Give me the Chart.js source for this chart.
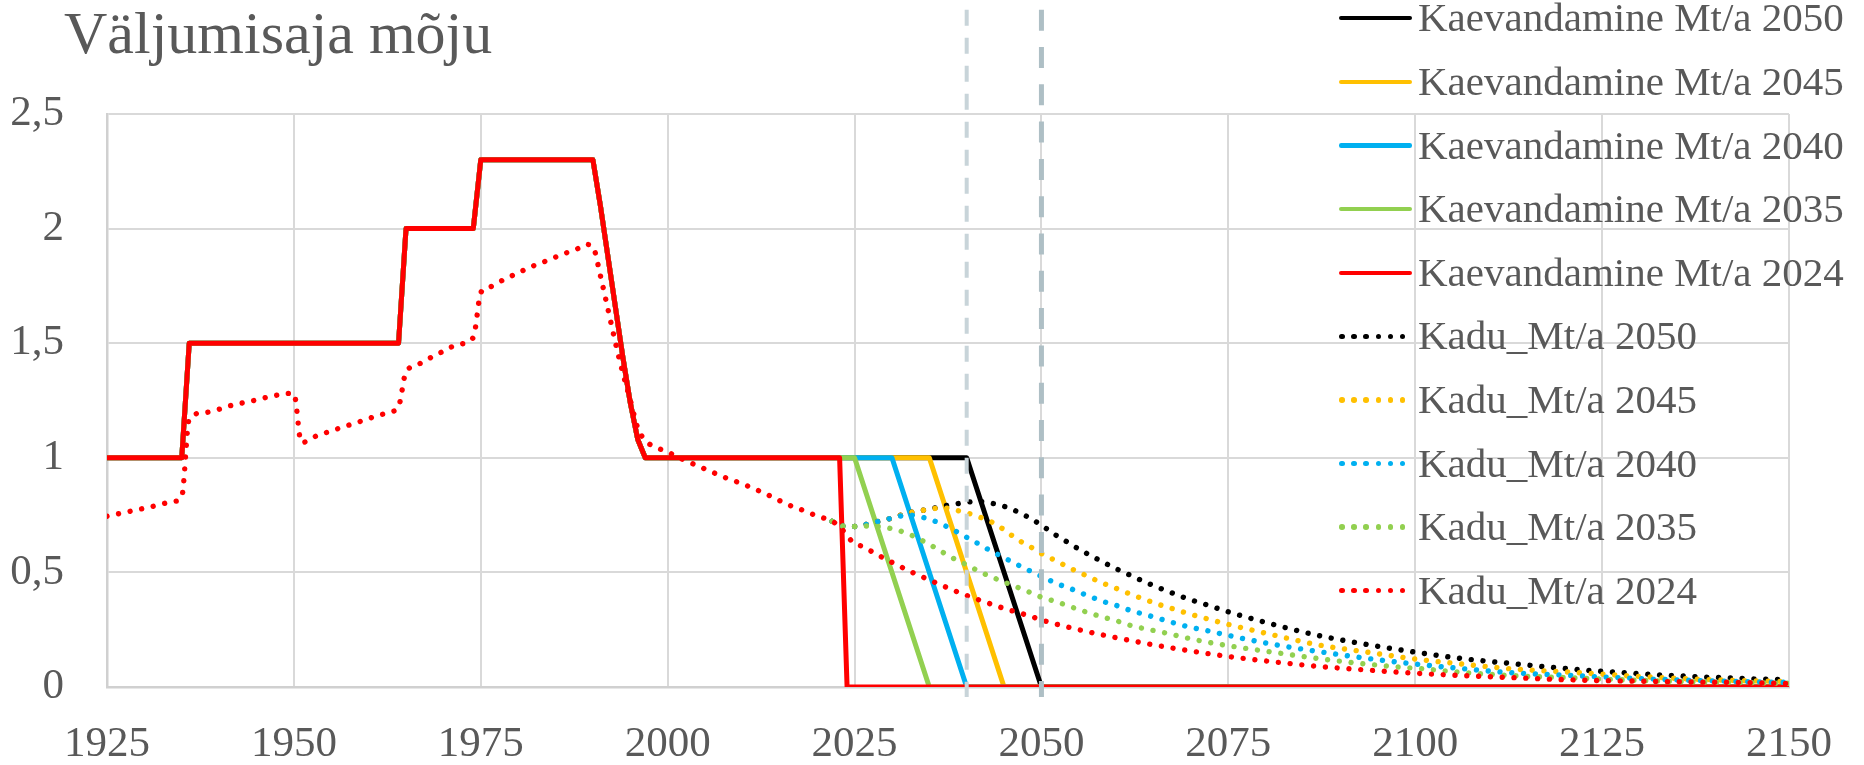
<!DOCTYPE html>
<html>
<head>
<meta charset="utf-8">
<script src="https://cdn.jsdelivr.net/npm/chart.js@4.4.1/dist/chart.umd.min.js"></script>
<style>
html,body{margin:0;padding:0;background:#fff;}
#wrap{position:relative;width:1864px;height:765px;overflow:hidden;}
#c{position:absolute;left:0;top:0;}
.t{position:absolute;font-family:"Liberation Serif","Times New Roman",serif;color:#595959;white-space:nowrap;}
.sw{position:absolute;}
</style>
</head>
<body>
<div id="wrap">
<canvas id="c" width="1864" height="765"></canvas>
<div id="title" class="t" style="left:64px;top:3px;font-size:60px;line-height:60px;">Väljumisaja mõju</div>
<div id="legend"></div>
</div>
<script>
// ---------- data ----------
const xTickValues = [1925,1950,1975,2000,2025,2050,2075,2100,2125,2150];
const xTickLabels = ['1925','1950','1975','2000','2025','2050','2075','2100','2125','2150'];
const yTickValues = [0,0.5,1,1.5,2,2.5];
const yTickLabels = ['0','0,5','1','1,5','2','2,5'];

const seriesLabels = ['Kaevandamine Mt/a 2050','Kaevandamine Mt/a 2045','Kaevandamine Mt/a 2040','Kaevandamine Mt/a 2035','Kaevandamine Mt/a 2024',
  'Kadu_Mt/a 2050','Kadu_Mt/a 2045','Kadu_Mt/a 2040','Kadu_Mt/a 2035','Kadu_Mt/a 2024'];
const seriesColors = ['#000000','#FFC000','#00B0F0','#92D050','#FF0000','#000000','#FFC000','#00B0F0','#92D050','#FF0000'];

// Kaevandamine (extraction) – shared history, then each scenario's tail
const kaevHistYears  = [1925,1935,1936,1964,1965,1974,1975,1990,1991,1992,1993,1994,1995,1996,1997];
const kaevHistValues = [1,1,1.5,1.5,2,2,2.3,2.3,2.1,1.88,1.66,1.44,1.24,1.08,1];
const kaev2024Years = [2023,2024,2150];  const kaev2024Values = [1,0,0];
const kaev2035Years = [2025,2035,2150];  const kaev2035Values = [1,0,0];
const kaev2040Years = [2030,2040,2150];  const kaev2040Values = [1,0,0];
const kaev2045Years = [2035,2045,2150];  const kaev2045Values = [1,0,0];
const kaev2050Years = [2040,2050,2150];  const kaev2050Values = [1,0,0];

// Kadu (loss)
const kadu2024Years = [1925,1928,1931,1934,1935,1936,1938,1940,1942,1944,1946,1948,1949,1950,1951,1953,1955,1957,1959,1961,1963,1964,1965,1966,1968,1970,1972,1974,1975,1976,1978,1980,1982,1984,1986,1988,1989,1990,1991,1992,1993,1994,1995,1996,1997,1998,2000,2002,2004,2006,2008,2010,2012,2014,2016,2018,2020,2022,2023,2024,2025,2026,2028,2030,2033,2036,2039,2042,2045,2048,2051,2055,2060,2065,2070,2075,2081,2087,2094,2100,2107,2113,2121,2129,2137,2145,2150];
const kadu2024Values = [0.745,0.766,0.787,0.81,0.83,1.17,1.197,1.212,1.232,1.245,1.261,1.275,1.281,1.28,1.066,1.095,1.117,1.139,1.16,1.182,1.201,1.223,1.376,1.397,1.432,1.465,1.495,1.525,1.72,1.742,1.776,1.807,1.837,1.862,1.889,1.913,1.931,1.92,1.795,1.65,1.504,1.37,1.252,1.13,1.075,1.052,1.025,0.993,0.965,0.937,0.91,0.886,0.859,0.829,0.797,0.772,0.746,0.723,0.70,0.66,0.625,0.614,0.578,0.544,0.496,0.453,0.412,0.376,0.343,0.314,0.283,0.25,0.215,0.184,0.157,0.133,0.11,0.09,0.073,0.06,0.049,0.041,0.031,0.026,0.022,0.019,0.015];

const kadu2035Years = [2022,2023,2024,2025,2027,2029,2030,2031,2032,2033,2034,2035,2036,2037,2038,2039,2040,2042,2044,2046,2048,2050,2052,2054,2056,2058,2060,2062,2064,2066,2068,2070,2072,2075,2082,2088,2095,2101,2107,2114,2121,2129,2137,2145,2150];
const kadu2035Values = [0.723,0.705,0.70,0.70,0.703,0.697,0.69,0.682,0.669,0.657,0.64,0.622,0.604,0.584,0.565,0.549,0.533,0.499,0.471,0.445,0.419,0.392,0.372,0.349,0.327,0.307,0.289,0.268,0.253,0.24,0.225,0.21,0.197,0.18,0.147,0.12,0.095,0.079,0.062,0.048,0.04,0.03,0.023,0.019,0.016];

const kadu2040Years = [2022,2023,2024,2025,2026,2027,2028,2029,2030,2031,2032,2033,2034,2035,2036,2037,2038,2039,2040,2041,2042,2044,2046,2048,2050,2052,2054,2056,2058,2060,2062,2064,2066,2068,2070,2072,2075,2081,2088,2094,2100,2107,2113,2121,2129,2137,2145,2150];
const kadu2040Values = [0.723,0.705,0.70,0.70,0.705,0.713,0.721,0.729,0.737,0.745,0.75,0.748,0.741,0.732,0.72,0.705,0.69,0.671,0.653,0.636,0.616,0.581,0.547,0.514,0.483,0.452,0.428,0.401,0.376,0.356,0.333,0.315,0.296,0.277,0.26,0.247,0.225,0.186,0.15,0.123,0.1,0.078,0.062,0.05,0.038,0.029,0.023,0.02];

const kadu2045Years = [2022,2023,2024,2025,2026,2027,2028,2029,2030,2031,2032,2033,2034,2035,2036,2037,2038,2039,2040,2041,2042,2043,2044,2045,2046,2047,2048,2050,2052,2054,2056,2058,2060,2062,2064,2066,2068,2070,2072,2075,2081,2087,2094,2100,2106,2113,2121,2129,2137,2145,2150];
const kadu2045Values = [0.723,0.705,0.70,0.70,0.705,0.713,0.721,0.729,0.737,0.748,0.759,0.764,0.77,0.775,0.78,0.781,0.776,0.768,0.76,0.75,0.738,0.725,0.708,0.686,0.662,0.639,0.622,0.582,0.55,0.516,0.486,0.456,0.43,0.404,0.38,0.357,0.337,0.317,0.299,0.273,0.227,0.184,0.15,0.122,0.101,0.079,0.064,0.048,0.035,0.027,0.024];

const kadu2050Years = [2022,2023,2024,2025,2026,2027,2028,2029,2030,2031,2032,2033,2034,2035,2036,2037,2038,2039,2040,2041,2042,2043,2044,2045,2046,2047,2048,2049,2050,2051,2052,2053,2054,2056,2058,2060,2062,2064,2066,2068,2070,2072,2075,2081,2087,2094,2100,2106,2113,2121,2129,2137,2145,2150];
const kadu2050Values = [0.723,0.705,0.70,0.70,0.705,0.713,0.721,0.729,0.737,0.748,0.759,0.764,0.77,0.775,0.783,0.79,0.796,0.801,0.806,0.809,0.808,0.804,0.797,0.788,0.777,0.761,0.745,0.727,0.705,0.684,0.661,0.642,0.621,0.584,0.549,0.516,0.486,0.456,0.429,0.404,0.38,0.36,0.328,0.273,0.225,0.183,0.152,0.125,0.102,0.078,0.06,0.046,0.036,0.031];

// vertical reference markers (years)
const markerYears  = [2040, 2050];
const markerRange  = [2.955, -0.044];

// ---------- build ----------
function pts(xs, ys){ const n=Math.min(xs.length, ys.length); const out=[]; for(let i=0;i<n;i++) out.push({x:xs[i], y:ys[i]}); return out; }

function solid(idx, years, values){
  return { label: seriesLabels[idx], data: pts(kaevHistYears.concat(years), kaevHistValues.concat(values)),
    borderColor: seriesColors[idx], backgroundColor: seriesColors[idx], borderWidth: 5,
    borderJoinStyle:'round', borderCapStyle:'round', pointRadius:0, tension:0, fill:false };
}
function dotted(idx, years, values){
  return { label: seriesLabels[idx], data: pts(years, values),
    borderColor: seriesColors[idx], backgroundColor: seriesColors[idx], borderWidth: 5.4,
    borderDash:[0.01, 11.8], borderCapStyle:'round', borderJoinStyle:'round',
    cubicInterpolationMode:'monotone', pointRadius:0, fill:false };
}
function marker(year, color, width, dash){
  return { label: 'marker '+year, data: [{x:year, y:markerRange[0]},{x:year, y:markerRange[1]}],
    borderColor: color, borderWidth: width, borderDash: dash, borderCapStyle:'butt',
    pointRadius:0, tension:0, clip:false, fill:false };
}

const datasets = [
  marker(markerYears[0], '#C8D4D9', 4, [16,12]),
  marker(markerYears[1], '#AEBFC5', 5, [21,16.3]),
  dotted(9, kadu2024Years, kadu2024Values),
  dotted(8, kadu2035Years, kadu2035Values),
  dotted(7, kadu2040Years, kadu2040Values),
  dotted(6, kadu2045Years, kadu2045Values),
  dotted(5, kadu2050Years, kadu2050Values),
  solid(4, kaev2024Years, kaev2024Values),
  solid(3, kaev2035Years, kaev2035Values),
  solid(2, kaev2040Years, kaev2040Values),
  solid(1, kaev2045Years, kaev2045Values),
  solid(0, kaev2050Years, kaev2050Values)
];

const tickFont = { family: "'Liberation Serif','Times New Roman',serif", size: 43, lineHeight: 1.2 };

new Chart(document.getElementById('c'), {
  type: 'line',
  data: { datasets },
  options: {
    responsive: false, animation: false, devicePixelRatio: 1,
    layout: { padding: { top: 114, right: 71, left: 0, bottom: 0 } },
    plugins: { legend: { display: false }, tooltip: { enabled: false }, title: { display: false } },
    scales: {
      x: {
        type: 'linear', min: xTickValues[0], max: xTickValues[xTickValues.length-1],
        afterBuildTicks: s => { s.ticks = xTickValues.map(v => ({ value: v })); },
        afterFit: s => { s.height = 78; },
        ticks: { font: tickFont, color: '#595959', padding: 32, maxRotation: 0, autoSkip: false,
          callback: (v, i) => xTickLabels[i] },
        grid: { color: '#D9D9D9', lineWidth: 2, drawTicks: false },
        border: { display: true, color: '#D0D0D0', width: 2.5 }
      },
      y: {
        type: 'linear', min: yTickValues[0], max: yTickValues[yTickValues.length-1],
        afterBuildTicks: s => { s.ticks = yTickValues.map(v => ({ value: v })); },
        afterFit: s => { s.width = 107; },
        ticks: { font: tickFont, color: '#595959', padding: 43,
          callback: (v, i) => yTickLabels[i] },
        grid: { color: '#D9D9D9', lineWidth: 2, drawTicks: false },
        border: { display: true, color: '#D0D0D0', width: 2.5 }
      }
    }
  }
});

// ---------- legend (HTML overlay) ----------
const legend = document.getElementById('legend');
const rowStart = 18.3, rowStep = 63.6;
seriesLabels.forEach((lab, i) => {
  const cy = rowStart + rowStep * i;
  const dottedRow = i >= 5;
  if (!dottedRow) {
    const s = document.createElement('div');
    s.className = 'sw';
    s.style.cssText = `left:1339px;top:${cy-2.2}px;width:73px;height:4.4px;border-radius:2.2px;background:${seriesColors[i]};`;
    legend.appendChild(s);
  } else {
    for (let k = 0; k < 6; k++) {
      const d = document.createElement('div');
      d.className = 'sw';
      const cx = 1342 + 12.1 * k;
      d.style.cssText = `left:${cx-2.8}px;top:${cy-2.8}px;width:5.6px;height:5.6px;border-radius:50%;background:${seriesColors[i]};`;
      legend.appendChild(d);
    }
  }
  const t = document.createElement('div');
  t.className = 't';
  const baseline = cy + 13.4;
  t.style.cssText = `left:1418px;top:${baseline-34.3}px;font-size:41px;line-height:41px;`;
  t.textContent = lab;
  legend.appendChild(t);
});
</script>
</body>
</html>
